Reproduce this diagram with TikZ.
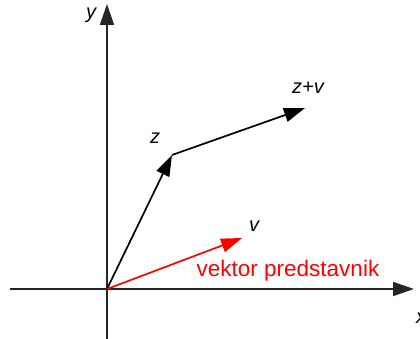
\documentclass[tikz,border=0pt]{standalone}
\usepackage{fontspec}
\setmainfont{Liberation Sans}
\usetikzlibrary{arrows.meta}
\begin{document}
\begin{tikzpicture}[x=1pt,y=-1pt,
  vec/.style={line width=1.7pt,-{Triangle[length=21pt,width=14pt]}},
  axis/.style={line width=1.7pt,draw=black!85,-{Triangle[length=21pt,width=14pt]}},
  lbl/.style={font=\fontsize{20}{22}\selectfont\itshape,inner sep=0pt}]
\useasboundingbox (0,0) rectangle (420,339);
\clip (0,0) rectangle (420,339);
\coordinate (O) at (107,289);
\coordinate (xs) at (10,289);
\coordinate (xe) at (414,289);
\coordinate (ys) at (107,339);
\coordinate (ye) at (107,4);
\coordinate (Z) at (172,155);
\coordinate (ZV) at (305,108);
\coordinate (V) at (242,238);
\draw[axis] (xs) -- (xe);
\draw[axis] (ys) -- (ye);
\draw[vec] (O) -- (Z);
\draw[vec] (Z) -- (ZV);
\draw[vec,red] (O) -- (V);
\node[lbl] (ly) at (91,15) {y};
\node[lbl] (lx) at (421,318) {x};
\node[lbl] (lz) at (155,138) {z};
\node[lbl] (lzv) at (308,88) {z+v};
\node[lbl] (lv) at (254,226) {v};
\node[inner sep=0pt,text=red,font=\fontsize{22.5}{24}\selectfont] (vp) at (288,271) {vektor predstavnik};
\end{tikzpicture}
\end{document}
